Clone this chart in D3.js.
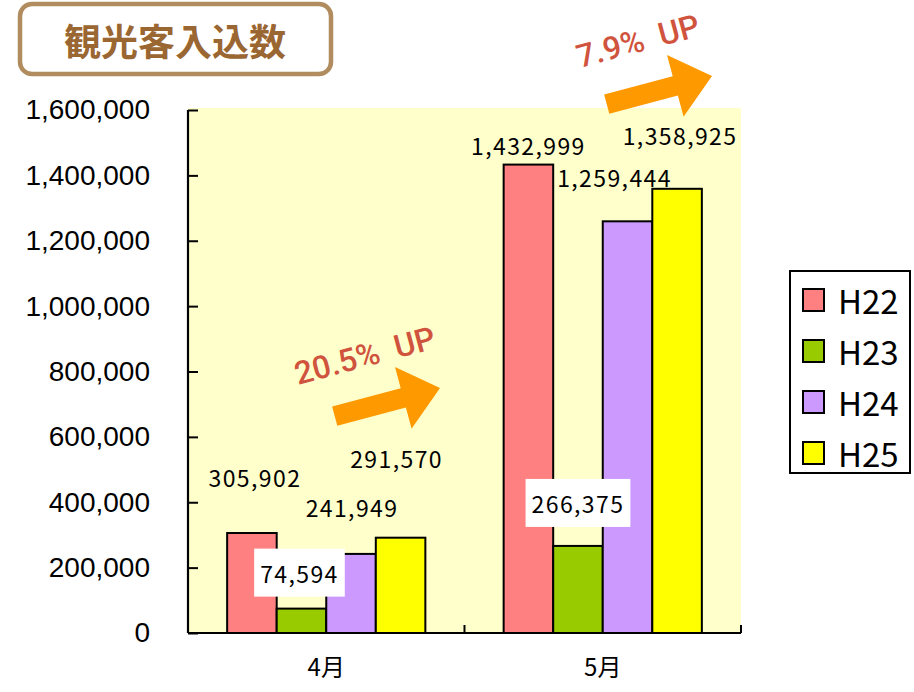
<!DOCTYPE html>
<html lang="ja">
<head>
<meta charset="utf-8">
<script src="https://cdn.jsdelivr.net/npm/d3@7/dist/d3.min.js"></script>
<style>
  html, body { margin: 0; padding: 0; background: #ffffff; }
  svg { display: block; }
</style>
</head>
<body>
<svg id="chart" width="914" height="692"></svg>
<script>
// Monthly visitor counts by fiscal year (April / May)
const months = ["4月", "5月"];
const seriesNames = ["H22", "H23", "H24", "H25"];
const h22 = [305902, 1432999];
const h23 = [74594, 266375];
const h24 = [241949, 1259444];
const h25 = [291570, 1358925];
const yTicks = [0, 200000, 400000, 600000, 800000, 1000000, 1200000, 1400000, 1600000];
const titleText = "観光客入込数";

// Layout and style settings
const colors = ["#ff8080", "#99cc00", "#cc99ff", "#ffff00"];
const plot = { left: 188, right: 741, top: 110, bottom: 633 };
// label offsets from the top centre of each bar: [series][month] = [dx, dy of baseline]
const labelOffsets = [
  [[3, -46], [0, -10]],
  [[-2, -26], [0, -33]],
  [[1, -37], [-13, -34]],
  [[-4, -70], [3, -44]]
];
const boxedSeries = ["H23"];

const values = [h22, h23, h24, h25];
const svg = d3.select("#chart");

const y = d3.scaleLinear().domain([0, 1600000]).range([plot.bottom, plot.top]);
const x0 = d3.scaleBand().domain(months).range([plot.left, plot.right]);
const x1 = d3.scaleBand().domain(seriesNames).range([0, x0.bandwidth()]).paddingOuter(0.79);

// plot background
svg.append("rect")
  .attr("x", plot.left).attr("y", plot.top - 2)
  .attr("width", plot.right - plot.left).attr("height", plot.bottom - plot.top + 2)
  .attr("fill", "#ffffcc");

// bars
const bars = svg.append("g");
seriesNames.forEach((s, si) => {
  bars.selectAll(null)
    .data(months.map((m, mi) => ({ m, v: values[si][mi] })))
    .join("rect")
    .attr("x", d => x0(d.m) + x1(s))
    .attr("y", d => y(d.v))
    .attr("width", x1.bandwidth())
    .attr("height", d => y(0) - y(d.v))
    .attr("fill", colors[si])
    .attr("stroke", "#000")
    .attr("stroke-width", 2);
});

// y axis
const yAxis = svg.append("g")
  .attr("transform", `translate(${plot.left},0)`)
  .call(d3.axisLeft(y).tickValues(yTicks).tickSize(-10).tickPadding(38)
    .tickFormat(d3.format(",")));
yAxis.select(".domain").attr("stroke", "#000").attr("stroke-width", 2.2)
  .attr("d", `M0,${plot.top}V${plot.bottom}`);
yAxis.selectAll(".tick line").attr("stroke", "#000").attr("stroke-width", 2);
yAxis.selectAll(".tick text")
  .attr("font-family", "'Liberation Sans', Arial, sans-serif")
  .attr("font-size", 28).attr("fill", "#000");

// x axis
const xAxis = svg.append("g")
  .attr("transform", `translate(0,${plot.bottom})`)
  .call(d3.axisBottom(x0).tickSize(0).tickPadding(26));
xAxis.select(".domain").attr("stroke", "#000").attr("stroke-width", 2.2)
  .attr("d", `M${plot.left},0H${plot.right}`);
xAxis.selectAll(".tick text")
  .attr("font-family", "'Noto Sans CJK JP', sans-serif")
  .attr("font-size", 24).attr("fill", "#000");
// category boundary ticks
const bounds = [x0(months[0])].concat(months.map(m => x0(m) + x0.bandwidth()));
xAxis.selectAll("line.bound").data(bounds).join("line")
  .attr("class", "bound")
  .attr("x1", d => d).attr("x2", d => d)
  .attr("y1", 0).attr("y2", -8)
  .attr("stroke", "#000").attr("stroke-width", 2);

// value labels
const labels = svg.append("g")
  .attr("font-family", "'Noto Sans CJK JP', sans-serif")
  .attr("font-size", 23)
  .attr("letter-spacing", "1.4px")
  .attr("fill", "#000");
seriesNames.forEach((s, si) => {
  months.forEach((m, mi) => {
    const v = values[si][mi];
    const [dx, dy] = labelOffsets[si][mi];
    const cx = x0(m) + x1(s) + x1.bandwidth() / 2 + dx;
    const by = y(v) + dy;
    const g = labels.append("g");
    const t = g.append("text")
      .attr("x", cx).attr("y", by)
      .attr("text-anchor", "middle")
      .text(d3.format(",")(v));
    if (boxedSeries.includes(s)) {
      const bb = t.node().getBBox();
      g.insert("rect", "text")
        .attr("x", bb.x - 6).attr("y", bb.y - 7)
        .attr("width", bb.width + 12).attr("height", bb.height + 14)
        .attr("fill", "#ffffff");
    }
  });
});

// growth annotations (H24 -> H25)
const growthArrows = [
  { tip: [440, 388], text: [298, 385] },
  { tip: [712, 76], text: [580, 68] }
];
const arrowShape = [[0, 0], [-38, -32], [-38, -10], [-109, -10], [-109, 10], [-38, 10], [-38, 32]];
const annot = svg.append("g");
growthArrows.forEach((a, i) => {
  const pct = ((h25[i] / h24[i] - 1) * 100).toFixed(1);
  annot.append("polygon")
    .attr("points", arrowShape.map(p => p.join(",")).join(" "))
    .attr("transform", `translate(${a.tip[0]},${a.tip[1]}) rotate(-15)`)
    .attr("fill", "#ff9900");
  annot.append("text")
    .attr("transform", `translate(${a.text[0]},${a.text[1]}) rotate(-15)`)
    .attr("font-family", "Roboto, 'Noto Sans', sans-serif")
    .attr("font-weight", 500)
    .attr("font-size", 32)
    .attr("fill", "#d0533d")
    .style("white-space", "pre")
    .text(`${pct}%  UP`);
});

// legend
const legend = svg.append("g");
legend.append("rect")
  .attr("x", 790).attr("y", 271).attr("width", 120).attr("height", 202)
  .attr("fill", "#fff").attr("stroke", "#000").attr("stroke-width", 2);
seriesNames.forEach((s, i) => {
  const cy = 300 + i * 51;
  legend.append("rect")
    .attr("x", 803).attr("y", cy - 11).attr("width", 21).attr("height", 22)
    .attr("fill", colors[i]).attr("stroke", "#000").attr("stroke-width", 2);
  legend.append("text")
    .attr("x", 838).attr("y", cy)
    .attr("dominant-baseline", "central")
    .attr("font-family", "'Noto Sans CJK JP', sans-serif")
    .attr("font-size", 33)
    .attr("fill", "#000")
    .text(s);
});

// title box
const title = svg.append("g");
title.append("rect")
  .attr("x", 20).attr("y", 4).attr("width", 311).attr("height", 70)
  .attr("rx", 12).attr("ry", 12)
  .attr("fill", "#fff").attr("stroke", "#b08c5e").attr("stroke-width", 4.5);
title.append("text")
  .attr("x", 175).attr("y", 40)
  .attr("text-anchor", "middle")
  .attr("dominant-baseline", "central")
  .attr("font-family", "'Noto Sans CJK JP', sans-serif")
  .attr("font-weight", 700)
  .attr("font-size", 37)
  .attr("fill", "#9a6632")
  .text(titleText);
</script>
</body>
</html>
